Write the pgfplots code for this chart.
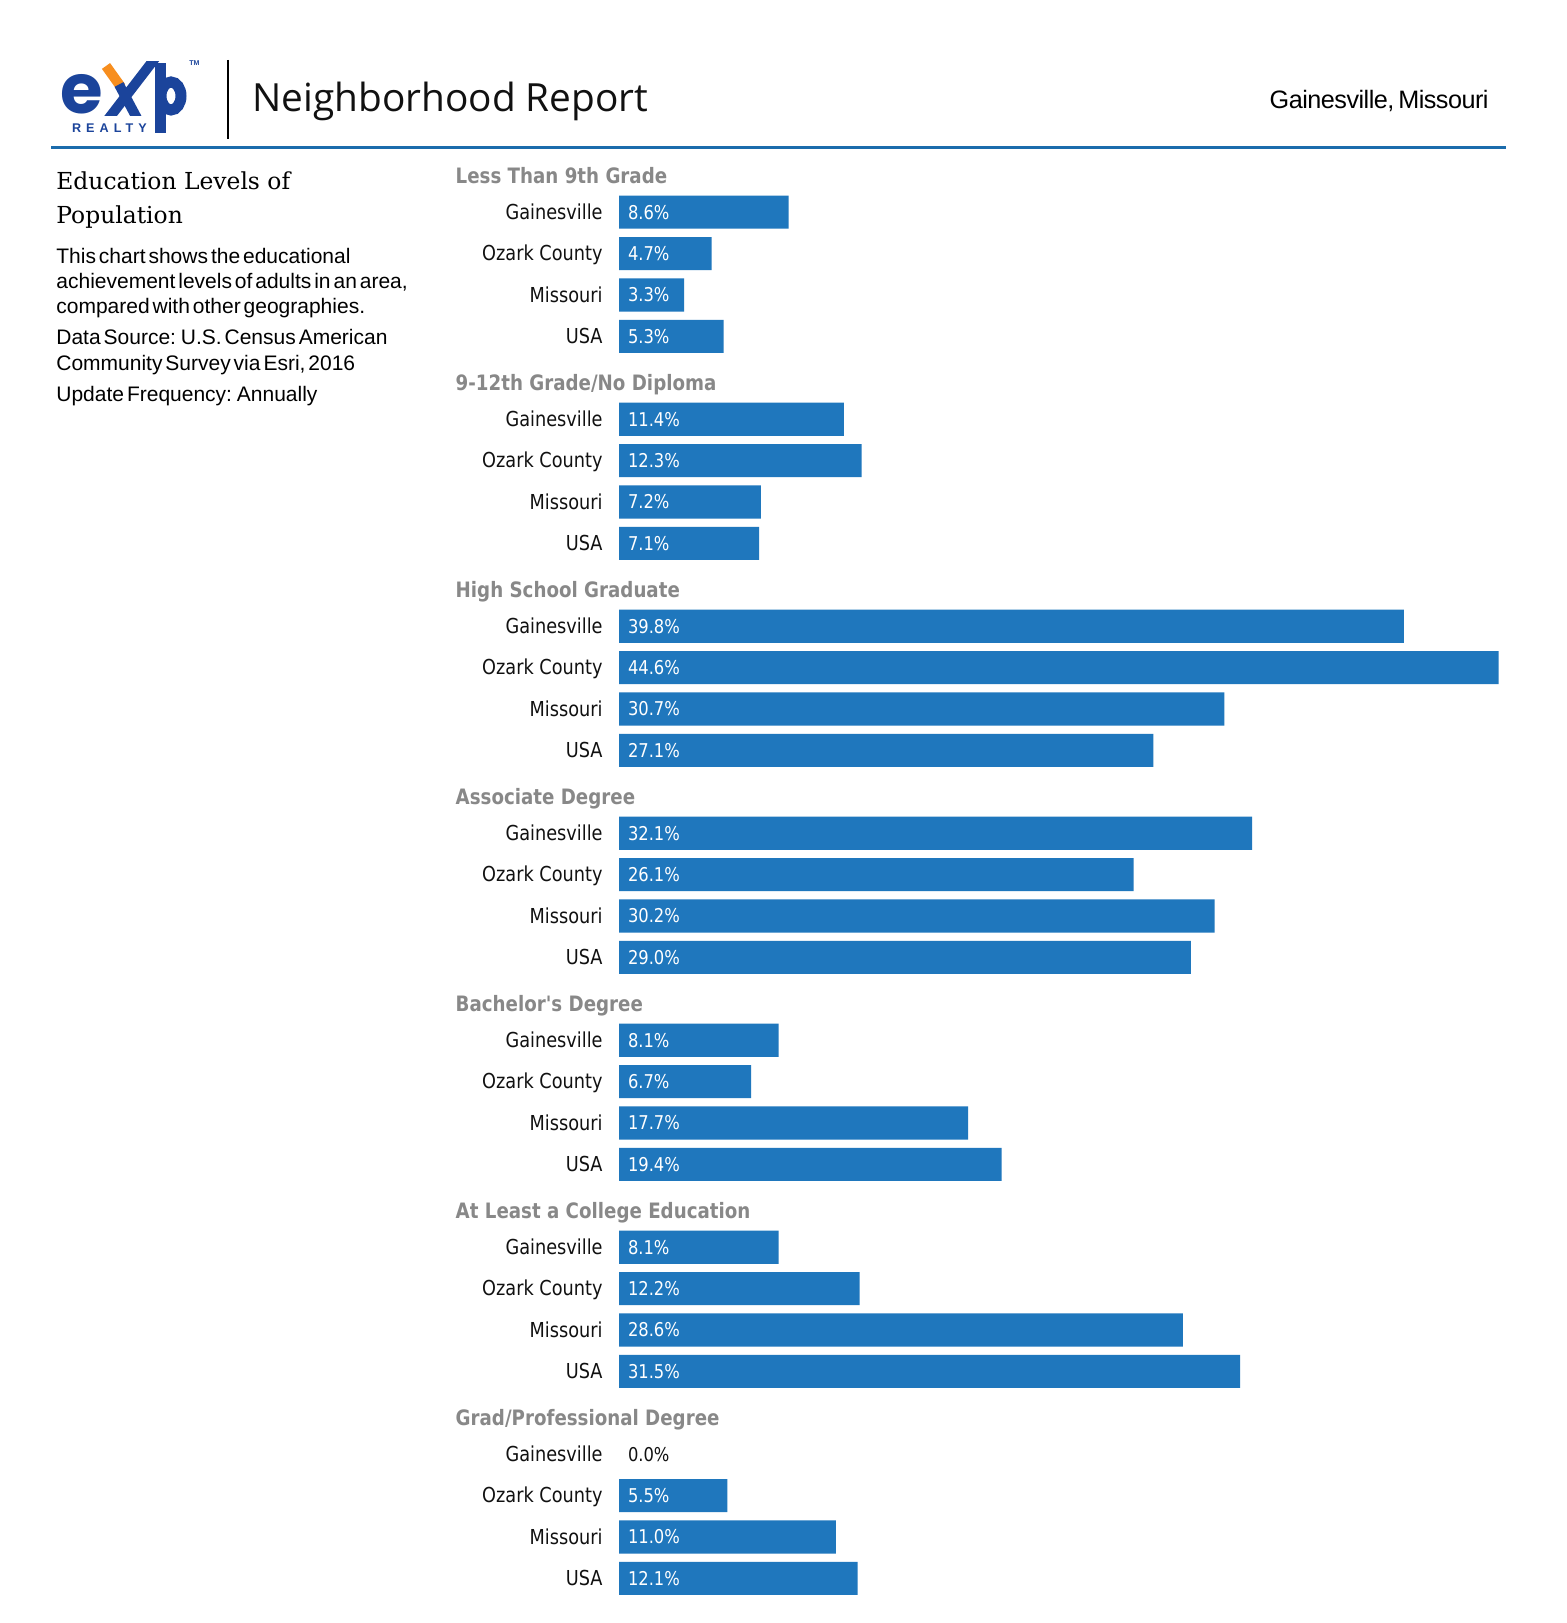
\documentclass[border=0pt]{standalone}
\usepackage{fontspec}
\usepackage{pgfplots}
\usepackage{pgfplotstable}
\pgfplotsset{compat=1.18}
\setmainfont{Liberation Sans}
\newfontfamily\labfont[FakeStretch=0.86]{DejaVu Sans}
\newfontfamily\titlefont{Open Sans}
\newfontfamily\seriffont{DejaVu Serif}
\newfontfamily\logofont{Poppins}
\newfontfamily\bodyfont[WordSpace=0.5]{Liberation Sans}
\newfontfamily\locfont[WordSpace=0.6,LetterSpace=-2]{Liberation Sans}
\newfontfamily\realtyfont[LetterSpace=40]{Liberation Sans}

\definecolor{barblue}{RGB}{31,119,189}
\definecolor{rulecol}{RGB}{27,108,172}
\definecolor{hdrgray}{RGB}{136,136,136}
\definecolor{logoblue}{RGB}{27,68,155}
\definecolor{logoorange}{RGB}{247,142,30}
\definecolor{labcol}{RGB}{17,17,17}

\pgfplotstableread[col sep=comma]{
y,val,geo
-1,8.6,Gainesville
-2,4.7,Ozark County
-3,3.3,Missouri
-4,5.3,USA
-6,11.4,Gainesville
-7,12.3,Ozark County
-8,7.2,Missouri
-9,7.1,USA
-11,39.8,Gainesville
-12,44.6,Ozark County
-13,30.7,Missouri
-14,27.1,USA
-16,32.1,Gainesville
-17,26.1,Ozark County
-18,30.2,Missouri
-19,29.0,USA
-21,8.1,Gainesville
-22,6.7,Ozark County
-23,17.7,Missouri
-24,19.4,USA
-26,8.1,Gainesville
-27,12.2,Ozark County
-28,28.6,Missouri
-29,31.5,USA
-31,0.0,Gainesville
-32,5.5,Ozark County
-33,11.0,Missouri
-34,12.1,USA
}\edu

\begin{document}
\begin{tikzpicture}[x=0.5pt,y=0.5pt]
\path[fill=white,use as bounding box] (0,0) rectangle (1567,1623);

% logo
\node[anchor=base west,inner sep=0pt,text depth=0pt,text=logoblue,font=\logofont\bfseries\fontsize{34.5}{36}\selectfont] at (60,1509) {e};
\begin{scope}
\clip (95,1507) rectangle (200,1561);
\draw[logoblue,line width=5pt] (106,1501) -- (156,1566);
\draw[logoorange,line width=5pt] (106,1557) -- (121,1536);
\draw[logoblue,line width=5pt] (119,1538.5) -- (139,1501);
\end{scope}
\fill[logoblue] (155,1490) rectangle (166,1560);
\draw[logoblue,line width=5.5pt] (171,1527) ellipse [x radius=10, y radius=14];
\node[anchor=base west,inner sep=0pt,text=logoblue,font=\bfseries\fontsize{3.5}{4}\selectfont] at (189,1557) {TM};
\node[anchor=base west,inner sep=0pt,text height=4.5pt,text=logoblue,font=\realtyfont\bfseries\fontsize{6.3}{7}\selectfont] at (71.7,1490.3) {REALTY};
\draw[black,line width=1.2pt] (227.7,1563) -- (227.7,1484);

% header
\node[anchor=base west,inner sep=0pt,text=labcol,font=\titlefont\fontsize{19.4}{22}\selectfont] at (252,1511.3) {Neighborhood Report};
\node[anchor=base east,inner sep=0pt,text=black,font=\locfont\fontsize{12.6}{14}\selectfont] at (1489,1514.7) {Gainesville, Missouri};
\draw[rulecol,line width=1.6pt] (51,1475.5) -- (1506,1475.5);

% left text
\begin{scope}[every node/.style={anchor=base west,inner sep=0pt,text=black}]
\node[font=\seriffont\fontsize{11.7}{14}\selectfont] at (56,1433) {Education Levels of};
\node[font=\seriffont\fontsize{11.7}{14}\selectfont] at (56,1399.7) {Population};
\node[font=\bodyfont\fontsize{10.5}{12}\selectfont] at (56,1359.7) {This chart shows the educational};
\node[font=\bodyfont\fontsize{10.5}{12}\selectfont] at (56,1334.7) {achievement levels of adults in an area,};
\node[font=\bodyfont\fontsize{10.5}{12}\selectfont] at (56,1309.7) {compared with other geographies.};
\node[font=\bodyfont\fontsize{10.5}{12}\selectfont] at (56,1278) {Data Source: U.S. Census American};
\node[font=\bodyfont\fontsize{10.5}{12}\selectfont] at (56,1252.3) {Community Survey via Esri, 2016};
\node[font=\bodyfont\fontsize{10.5}{12}\selectfont] at (56,1221.3) {Update Frequency: Annually};
\end{scope}

\begin{axis}[
  at={(309.5pt,11.95pt)}, anchor=south west,
  scale only axis, width=453.56pt, height=724.5pt,
  xbar, xmin=0, xmax=46, ymin=-34.5, ymax=0.5,
  clip=false,
  axis line style={draw=none},
  major tick length=0pt,
  xtick=\empty,
  ytick={-1,-2,-3,-4,-6,-7,-8,-9,-11,-12,-13,-14,-16,-17,-18,-19,-21,-22,-23,-24,-26,-27,-28,-29,-31,-32,-33,-34},
  yticklabels from table={\edu}{geo},
  yticklabel style={font=\labfont\fontsize{10.3}{12}\selectfont, text=labcol, anchor=base east, inner sep=0pt, xshift=-8pt, yshift=-3.65pt},
]
\addplot[fill=barblue, draw=none, bar shift=0pt, bar width=0.8,
  restrict expr to domain={\thisrow{val}}{0.05:100}] table[x=val, y=y] {\edu};
\addplot[draw=none, fill=none, bar shift=0pt, bar width=0.8,
  point meta=explicit,
  restrict expr to domain={\thisrow{val}}{0.05:100},
  nodes near coords={\pgfmathprintnumber[fixed,fixed zerofill,precision=1,assume math mode=true]{\pgfplotspointmeta}\%},
  nodes near coords style={font=\labfont\fontsize{9.5}{11}\selectfont, text=white, anchor=west, inner sep=0pt, xshift=4.3pt},
] table[x expr=0, y=y, meta=val] {\edu};
\addplot[draw=none, fill=none, bar shift=0pt, bar width=0.8,
  point meta=explicit,
  restrict expr to domain={\thisrow{val}}{-1:0.05},
  nodes near coords={\pgfmathprintnumber[fixed,fixed zerofill,precision=1,assume math mode=true]{\pgfplotspointmeta}\%},
  nodes near coords style={font=\labfont\fontsize{9.5}{11}\selectfont, text=labcol, anchor=west, inner sep=0pt, xshift=4.3pt},
] table[x expr=0, y=y, meta=val] {\edu};
\begin{scope}[every node/.style={anchor=base west, inner sep=0pt, text=hdrgray, font=\labfont\bfseries\fontsize{10.6}{12}\selectfont}]
\node at (axis cs:-8.3,-0.31) {Less Than 9th Grade};
\node at (axis cs:-8.3,-5.31) {9-12th Grade/No Diploma};
\node at (axis cs:-8.3,-10.31) {High School Graduate};
\node at (axis cs:-8.3,-15.31) {Associate Degree};
\node at (axis cs:-8.3,-20.31) {Bachelor's Degree};
\node at (axis cs:-8.3,-25.31) {At Least a College Education};
\node at (axis cs:-8.3,-30.31) {Grad/Professional Degree};
\end{scope}
\end{axis}
\end{tikzpicture}
\end{document}
